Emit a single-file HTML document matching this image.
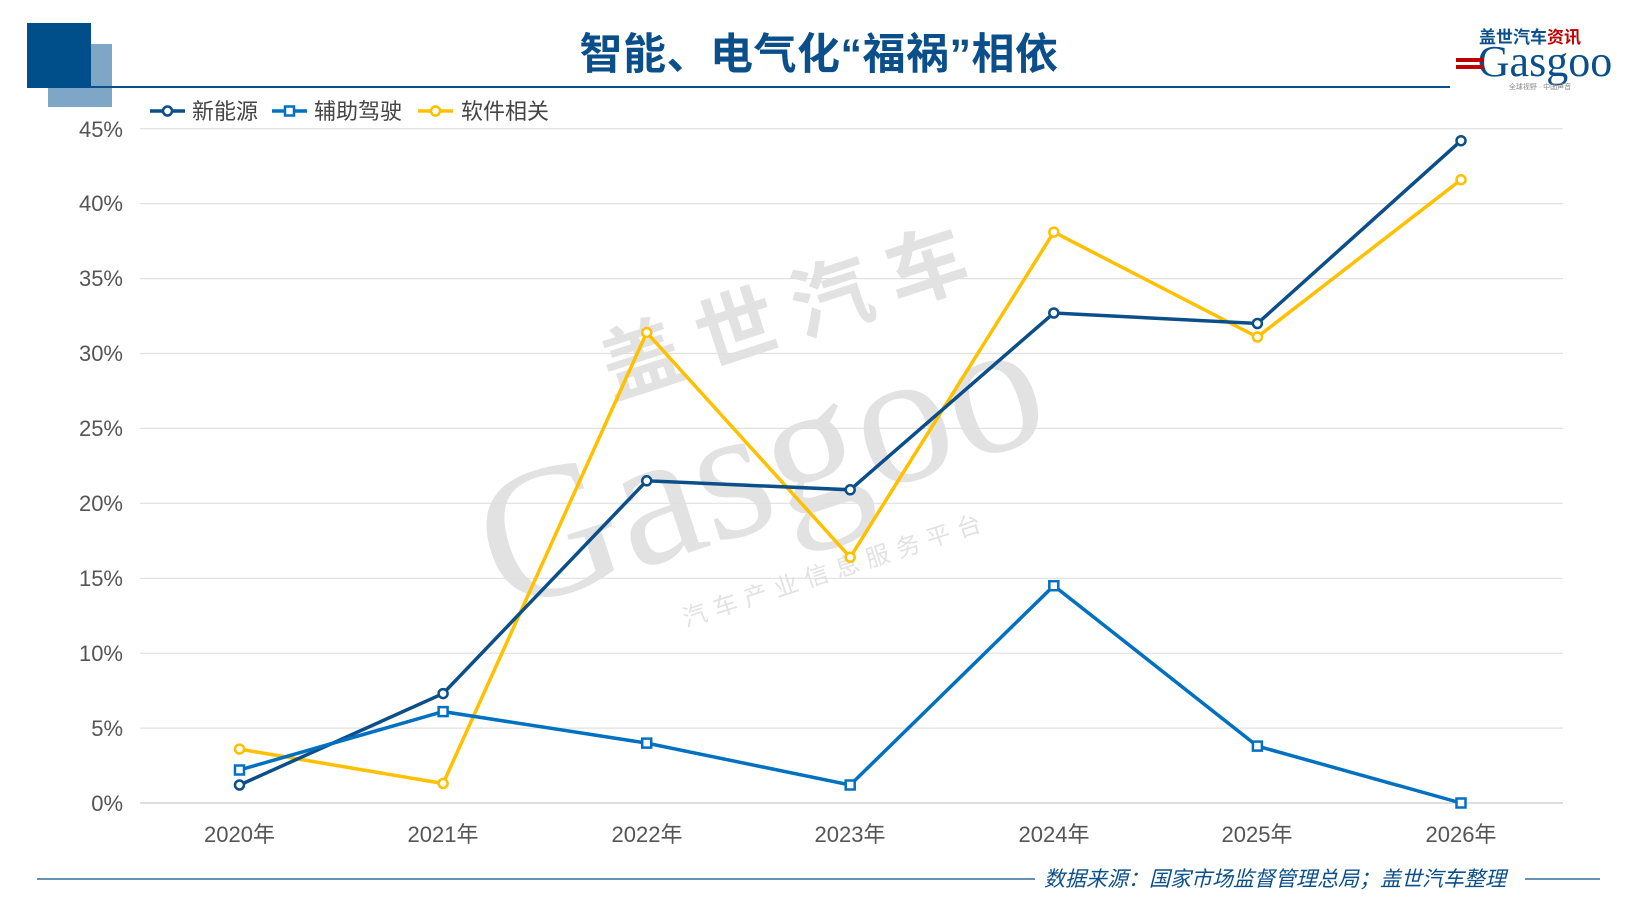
<!DOCTYPE html>
<html><head><meta charset="utf-8"><style>
body{margin:0;background:#fff;}
svg{display:block;font-family:"Liberation Sans","Noto Sans CJK SC",sans-serif;}
</style></head><body>
<svg width="1640" height="922" viewBox="0 0 1640 922" xmlns="http://www.w3.org/2000/svg">
<rect x="48" y="44" width="64" height="63" fill="#7ea6c6"/>
<rect x="27" y="23" width="64" height="65" fill="#004e8a"/>
<line x1="89" y1="87" x2="1450" y2="87" stroke="#0b4f8a" stroke-width="2"/>
<text x="819" y="69" text-anchor="middle" font-size="43" font-weight="bold" fill="#0b4f8a" letter-spacing="0.5">智能、电气化“福祸”相依</text>
<!-- logo -->
<text x="1530" y="43" text-anchor="middle" font-size="17" font-weight="bold" fill="#0b4f8a">盖世汽车<tspan fill="#c00000">资讯</tspan></text>
<text x="1545" y="76" text-anchor="middle" font-family="Liberation Serif,serif" font-size="44" fill="#0b4f8a">Gasgoo</text>
<rect x="1456" y="58" width="28" height="4" fill="#c00000"/><rect x="1456" y="65" width="28" height="4" fill="#c00000"/>
<text x="1540" y="89" text-anchor="middle" font-size="7" fill="#888">全球视野 · 中国声音</text>
<!-- watermark -->
<g fill="#e2e2e2" transform="rotate(-18 770 400)">
<text x="620" y="350" font-size="80" font-weight="bold" letter-spacing="20">盖世汽车</text>
<text x="450" y="520" font-family="Liberation Serif,serif" font-size="190">Gasgoo</text>
<text x="620" y="590" font-size="24" letter-spacing="8">汽车产业信息服务平台</text>
</g>
<!-- grid -->
<g stroke="#e0e0e0" stroke-width="1.2">
<line x1="140" x2="1563" y1="128.7" y2="128.7"/><line x1="140" x2="1563" y1="203.6" y2="203.6"/>
<line x1="140" x2="1563" y1="278.6" y2="278.6"/><line x1="140" x2="1563" y1="353.5" y2="353.5"/>
<line x1="140" x2="1563" y1="428.4" y2="428.4"/><line x1="140" x2="1563" y1="503.3" y2="503.3"/>
<line x1="140" x2="1563" y1="578.3" y2="578.3"/><line x1="140" x2="1563" y1="653.2" y2="653.2"/>
<line x1="140" x2="1563" y1="728.1" y2="728.1"/><line x1="140" x2="1563" y1="803" y2="803" stroke="#ccc"/>
</g>
<g font-size="22" fill="#555" text-anchor="end">
<text x="123" y="137">45%</text><text x="123" y="211">40%</text><text x="123" y="286">35%</text>
<text x="123" y="361">30%</text><text x="123" y="436">25%</text><text x="123" y="511">20%</text>
<text x="123" y="586">15%</text><text x="123" y="661">10%</text><text x="123" y="736">5%</text><text x="123" y="811">0%</text>
</g>
<g font-size="22" fill="#555" text-anchor="middle">
<text x="239.5" y="842">2020年</text><text x="443" y="842">2021年</text><text x="647" y="842">2022年</text>
<text x="850" y="842">2023年</text><text x="1054" y="842">2024年</text><text x="1257" y="842">2025年</text><text x="1461" y="842">2026年</text>
</g>
<!-- series -->
<polyline fill="none" stroke="#ffc000" stroke-width="3.5" points="239.5,749.1 443.1,783.5 646.7,332.5 850.2,557.3 1053.8,232.1 1257.4,337 1461,179.7"/>
<polyline fill="none" stroke="#0b4f8a" stroke-width="3.5" points="239.5,785 443.1,693.6 646.7,480.8 850.2,489.8 1053.8,313 1257.4,323.5 1461,140.7"/>
<polyline fill="none" stroke="#0070c0" stroke-width="3.5" points="239.5,770 443.1,711.6 646.7,743.1 850.2,785 1053.8,585.7 1257.4,746.1 1461,803"/>
<g fill="#fff" stroke="#ffc000" stroke-width="2.5">
<circle cx="239.5" cy="749.1" r="4.5"/><circle cx="443.1" cy="783.5" r="4.5"/><circle cx="646.7" cy="332.5" r="4.5"/><circle cx="850.2" cy="557.3" r="4.5"/><circle cx="1053.8" cy="232.1" r="4.5"/><circle cx="1257.4" cy="337" r="4.5"/><circle cx="1461" cy="179.7" r="4.5"/></g>
<g fill="#fff" stroke="#0b4f8a" stroke-width="2.5">
<circle cx="239.5" cy="785" r="4.5"/><circle cx="443.1" cy="693.6" r="4.5"/><circle cx="646.7" cy="480.8" r="4.5"/><circle cx="850.2" cy="489.8" r="4.5"/><circle cx="1053.8" cy="313" r="4.5"/><circle cx="1257.4" cy="323.5" r="4.5"/><circle cx="1461" cy="140.7" r="4.5"/></g>
<g fill="#fff" stroke="#0070c0" stroke-width="2.5">
<rect x="235" y="765.5" width="9" height="9"/><rect x="438.6" y="707.1" width="9" height="9"/><rect x="642.2" y="738.6" width="9" height="9"/><rect x="845.7" y="780.5" width="9" height="9"/><rect x="1049.3" y="581.2" width="9" height="9"/><rect x="1252.9" y="741.6" width="9" height="9"/><rect x="1456.5" y="798.5" width="9" height="9"/></g>
<!-- legend -->
<g font-size="22" fill="#444">
<line x1="150" x2="185" y1="111" y2="111" stroke="#0b4f8a" stroke-width="3.5"/><circle cx="167.5" cy="111" r="4.5" fill="#fff" stroke="#0b4f8a" stroke-width="2.5"/>
<text x="192" y="119">新能源</text>
<line x1="272" x2="307" y1="111" y2="111" stroke="#0070c0" stroke-width="3.5"/><rect x="285" y="106.5" width="9" height="9" fill="#fff" stroke="#0070c0" stroke-width="2.5"/>
<text x="314" y="119">辅助驾驶</text>
<line x1="418" x2="453" y1="111" y2="111" stroke="#ffc000" stroke-width="3.5"/><circle cx="435.5" cy="111" r="4.5" fill="#fff" stroke="#ffc000" stroke-width="2.5"/>
<text x="461" y="119">软件相关</text>
</g>
<!-- footer -->
<line x1="37" x2="1035" y1="879" y2="879" stroke="#0b4f8a" stroke-width="1.2"/>
<line x1="1525" x2="1600" y1="879" y2="879" stroke="#0b4f8a" stroke-width="1.2"/>
<text x="1506" y="886" text-anchor="end" font-size="21" font-style="italic" fill="#0b4f8a">数据来源：国家市场监督管理总局；盖世汽车整理</text>
</svg>
</body></html>
